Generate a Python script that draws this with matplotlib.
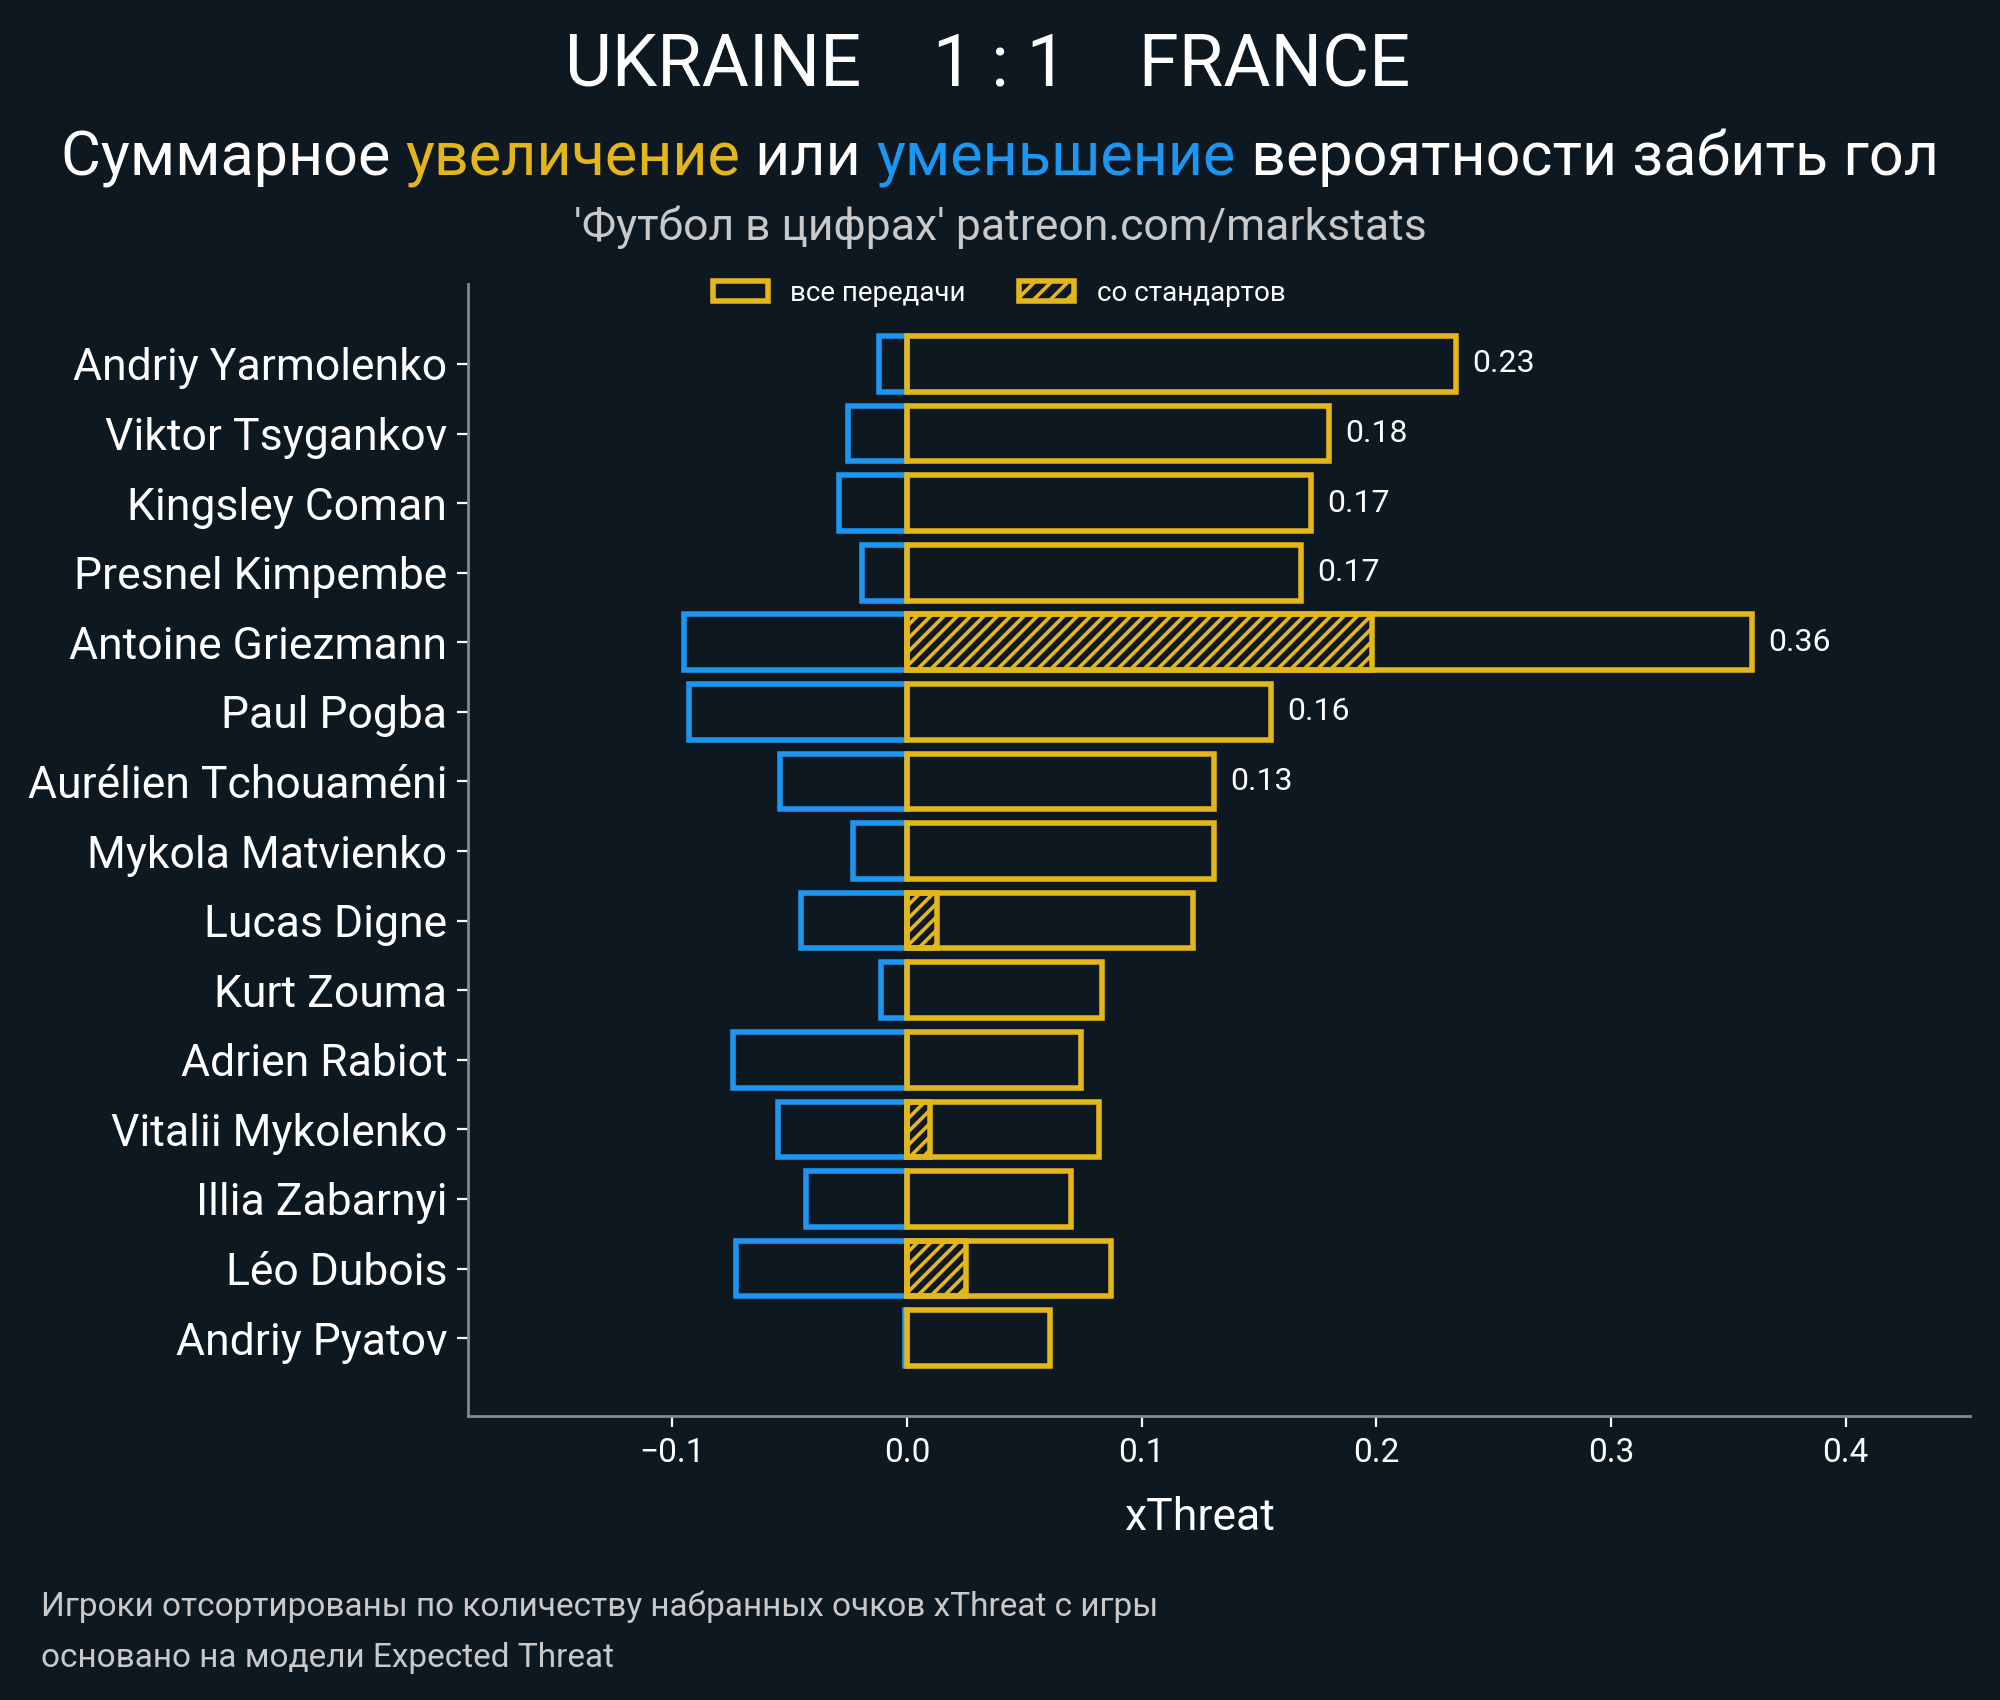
import matplotlib
matplotlib.use("Agg")
import matplotlib.pyplot as plt
from matplotlib.patches import Patch

plt.rcParams['font.family'] = ['Roboto', 'DejaVu Sans']
plt.rcParams['hatch.linewidth'] = 1.3

BG = '#0e1821'
YELLOW = '#e3b61a'
BLUE = '#1c96f0'
SPINE = '#7f8c8d'
LIGHT = '#c9c9c9'

players = ['Andriy Yarmolenko', 'Viktor Tsygankov', 'Kingsley Coman',
           'Presnel Kimpembe', 'Antoine Griezmann', 'Paul Pogba',
           'Aurélien Tchouaméni', 'Mykola Matvienko', 'Lucas Digne',
           'Kurt Zouma', 'Adrien Rabiot', 'Vitalii Mykolenko',
           'Illia Zabarnyi', 'Léo Dubois', 'Andriy Pyatov']
positive = [0.234, 0.180, 0.172, 0.168, 0.360, 0.155, 0.131, 0.131,
            0.122, 0.083, 0.074, 0.082, 0.070, 0.087, 0.061]
set_pieces = [0.0, 0.0, 0.0, 0.0, 0.198, 0.0, 0.0, 0.0,
              0.013, 0.0, 0.0, 0.010, 0.0, 0.025, 0.0]
negative = [-0.012, -0.025, -0.029, -0.019, -0.095, -0.093, -0.054, -0.023,
            -0.045, -0.011, -0.074, -0.055, -0.043, -0.073, -0.001]
labels = ['0.23', '0.18', '0.17', '0.17', '0.36', '0.16', '0.13',
          '', '', '', '', '', '', '', '']

fig = plt.figure(figsize=(10, 8.5), dpi=200, facecolor=BG)
ax = fig.add_axes([0.234, 0.167, 0.751, 0.666], facecolor=BG)

ys = list(range(len(players)))
h = 0.8
ax.barh(ys, negative, height=h, color='none', edgecolor=BLUE, linewidth=2)
ax.barh(ys, positive, height=h, color='none', edgecolor=YELLOW, linewidth=2)
for y, s in zip(ys, set_pieces):
    if s > 0:
        ax.barh(y, s, height=h, color='none', edgecolor=YELLOW,
                linewidth=2, hatch='/////')

for y, v, lab in zip(ys, positive, labels):
    if lab:
        ax.text(v + 0.007, y, lab, color='white', fontsize=11.5,
                va='center', ha='left')

ax.set_yticks(ys)
ax.set_yticklabels(players, fontsize=16, color='white')
ax.set_ylim(15.12, -1.15)
ax.set_xlim(-0.187, 0.453)
ax.set_xticks([-0.1, 0.0, 0.1, 0.2, 0.3, 0.4])
ax.set_xticklabels(['\u22120.1', '0.0', '0.1', '0.2', '0.3', '0.4'])
ax.tick_params(axis='x', colors='white', labelsize=12, length=4, width=0.8)
ax.tick_params(axis='y', colors='white', length=4, width=0.8)
ax.set_xlabel('xThreat', color='white', fontsize=16, labelpad=10)
ax.xaxis.set_label_coords(0.487, -0.0715)

for side in ['top', 'right']:
    ax.spines[side].set_visible(False)
for side in ['left', 'bottom']:
    ax.spines[side].set_color(SPINE)
    ax.spines[side].set_linewidth(1.0)

handles = [Patch(facecolor='none', edgecolor=YELLOW, linewidth=2),
           Patch(facecolor='none', edgecolor=YELLOW, linewidth=2, hatch='////')]
leg = fig.legend(handles, ['все передачи', 'со стандартов'], loc='center',
                 bbox_to_anchor=(0.4995, 0.8275), ncol=2, frameon=False,
                 fontsize=10, columnspacing=1.9)
for t in leg.get_texts():
    t.set_color('white')

fig.text(0.494, 0.9605, 'UKRAINE    1 : 1    FRANCE', color='white',
         fontsize=26, ha='center', va='center')

# subtitle with coloured words
parts = [('Суммарное ', 'white'), ('увеличение', YELLOW), (' или ', 'white'),
         ('уменьшение', BLUE), (' вероятности забить гол', 'white')]
fig.canvas.draw()
renderer = fig.canvas.get_renderer()
texts = []
for s, c in parts:
    texts.append(fig.text(0, 0.897, s, color=c, fontsize=22, ha='left',
                          va='baseline'))
widths = [t.get_window_extent(renderer).width for t in texts]
total = sum(widths)
figw = fig.get_figwidth() * fig.dpi
x = (figw - total) / 2
for t, w in zip(texts, widths):
    t.set_x(x / figw)
    x += w

fig.text(0.5, 0.859, "'Футбол в цифрах' patreon.com/markstats", color=LIGHT,
         fontsize=16, ha='center', va='baseline')

fig.text(0.0204, 0.0495, 'Игроки отсортированы по количеству набранных очков xThreat с игры',
         color=LIGHT, fontsize=12, ha='left', va='baseline')
fig.text(0.0204, 0.0195, 'основано на модели Expected Threat',
         color=LIGHT, fontsize=12, ha='left', va='baseline')

fig.savefig('out.png', dpi=200, facecolor=BG)
